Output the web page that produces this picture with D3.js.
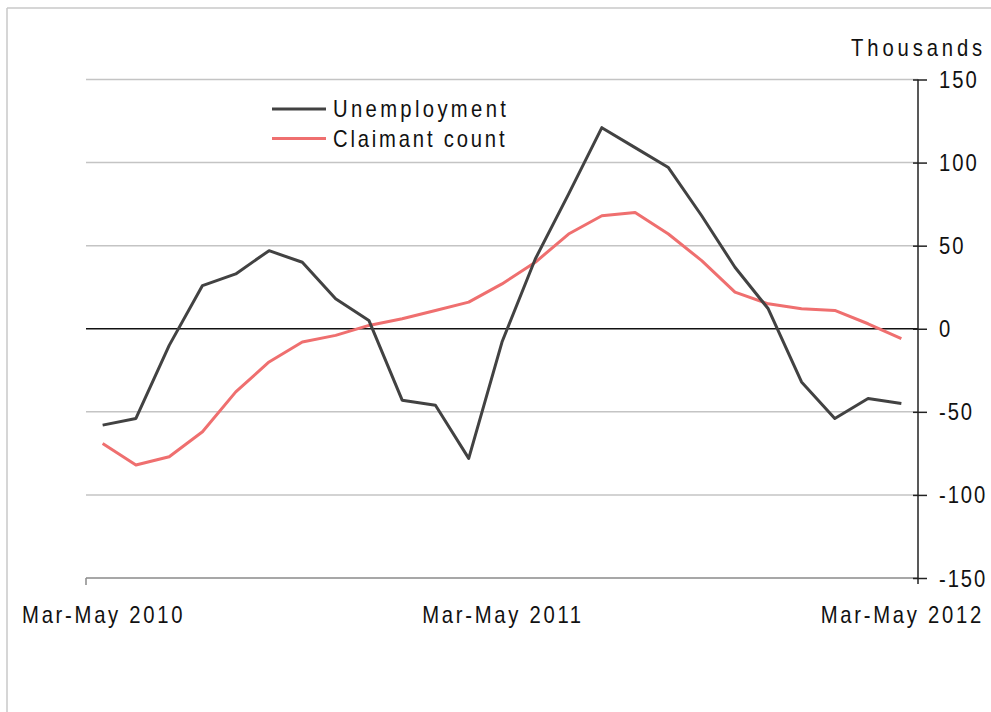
<!DOCTYPE html>
<html>
<head>
<meta charset="utf-8">
<script src="https://cdn.jsdelivr.net/npm/d3@7"></script>
<style>
  html, body { margin: 0; padding: 0; background: #fff; }
  svg text { font-family: "Liberation Sans", Arial, sans-serif; fill: #111; font-size: 23px; }
</style>
</head>
<body>
<svg id="chart" width="991" height="712"></svg>
<script>
const periods = [
  "Mar-May 2010","Apr-Jun 2010","May-Jul 2010","Jun-Aug 2010","Jul-Sep 2010","Aug-Oct 2010",
  "Sep-Nov 2010","Oct-Dec 2010","Nov-Jan 2011","Dec-Feb 2011","Jan-Mar 2011","Feb-Apr 2011",
  "Mar-May 2011","Apr-Jun 2011","May-Jul 2011","Jun-Aug 2011","Jul-Sep 2011","Aug-Oct 2011",
  "Sep-Nov 2011","Oct-Dec 2011","Nov-Jan 2012","Dec-Feb 2012","Jan-Mar 2012","Feb-Apr 2012",
  "Mar-May 2012"
];
const unemployment = [-58, -54, -10, 26, 33, 47, 40, 18, 5, -43, -46, -78, -8, 42, 81, 121, 109, 97, 68, 37, 12, -32, -54, -42, -45];
const claimantCount = [-69, -82, -77, -62, -38, -20, -8, -4, 2, 6, 11, 16, 27, 40, 57, 68, 70, 57, 41, 22, 15, 12, 11, 3, -6];
const yTicks = [150, 100, 50, 0, -50, -100, -150];
const xLabels = ["Mar-May 2010", "Mar-May 2011", "Mar-May 2012"];
const seriesNames = ["Unemployment", "Claimant count"];
const seriesColors = ["#424242", "#ef6f6f"];

const svg = d3.select("#chart");
const mLeft = 86, mRight = 918, mTop = 79.5, mBottom = 578;
const sx = 0.88;

// outer frame (left and top edges)
svg.append("line").attr("x1", 7).attr("x2", 7).attr("y1", 8).attr("y2", 712)
  .attr("stroke", "#c8c8c8").attr("stroke-width", 1.5);
svg.append("line").attr("x1", 7).attr("x2", 991).attr("y1", 8).attr("y2", 8)
  .attr("stroke", "#c8c8c8").attr("stroke-width", 1.5);

const x = d3.scalePoint().domain(periods).range([mLeft, mRight]).padding(0.5);
const y = d3.scaleLinear().domain([-150, 150]).range([mBottom, mTop]);

// gridlines
svg.append("g").selectAll("line").data(yTicks.filter(d => d !== 0 && d !== -150)).join("line")
  .attr("x1", mLeft).attr("x2", mRight)
  .attr("y1", d => y(d)).attr("y2", d => y(d))
  .attr("stroke", "#c4c4c4").attr("stroke-width", 1.5);

// bottom axis line
svg.append("line").attr("x1", mLeft).attr("x2", mRight).attr("y1", y(-150)).attr("y2", y(-150))
  .attr("stroke", "#8a8a8a").attr("stroke-width", 1.5);
svg.append("line").attr("x1", mLeft).attr("x2", mLeft).attr("y1", y(-150)).attr("y2", y(-150) + 7)
  .attr("stroke", "#8a8a8a").attr("stroke-width", 1.5);

// zero line
svg.append("line").attr("x1", mLeft).attr("x2", mRight).attr("y1", y(0)).attr("y2", y(0))
  .attr("stroke", "#111").attr("stroke-width", 1.5);

// right axis
const yAxis = d3.axisRight(y).tickValues(yTicks).tickSize(0).tickPadding(0);
const gy = svg.append("g").attr("transform", `translate(${mRight},0)`).call(yAxis);
gy.select(".domain").remove();
gy.selectAll(".tick text").remove();
gy.selectAll(".tick").append("line").attr("x1", -5).attr("x2", 9)
  .attr("stroke", "#222").attr("stroke-width", 1.5);
gy.selectAll(".tick").append("text")
  .attr("transform", `translate(21,0) scale(${sx},1)`)
  .attr("dy", "0.35em").attr("text-anchor", "start")
  .style("letter-spacing", "2.2px")
  .text(d => d);
svg.append("line").attr("x1", mRight).attr("x2", mRight).attr("y1", y(150)).attr("y2", y(-150) + 6)
  .attr("stroke", "#222").attr("stroke-width", 1.5);

svg.append("text").attr("transform", `translate(986,56) scale(${sx},1)`).attr("text-anchor", "end")
  .style("letter-spacing", "4.4px").text("Thousands");

// x labels
svg.append("g").selectAll("text").data(xLabels).join("text")
  .attr("transform", d => `translate(${x(d) + 1},623) scale(${sx},1)`).attr("text-anchor", "middle")
  .style("letter-spacing", "3.1px")
  .text(d => d);

// lines
const line = d3.line().x((d, i) => x(periods[i])).y(d => y(d));
[claimantCount, unemployment].forEach((s, k) => {
  const idx = 1 - k;
  svg.append("path").datum(s).attr("d", line)
    .attr("fill", "none").attr("stroke", seriesColors[idx])
    .attr("stroke-width", 3).attr("stroke-linejoin", "round");
});

// legend
const lg = svg.append("g");
seriesNames.forEach((n, i) => {
  const ly = 109 + i * 29.5;
  lg.append("line").attr("x1", 272).attr("x2", 326).attr("y1", ly).attr("y2", ly)
    .attr("stroke", seriesColors[i]).attr("stroke-width", 3);
  lg.append("text").attr("transform", `translate(333,${ly}) scale(${sx},1)`).attr("dy", "0.35em")
    .style("letter-spacing", i === 0 ? "3.8px" : "3.2px").text(n);
});
</script>
</body>
</html>
